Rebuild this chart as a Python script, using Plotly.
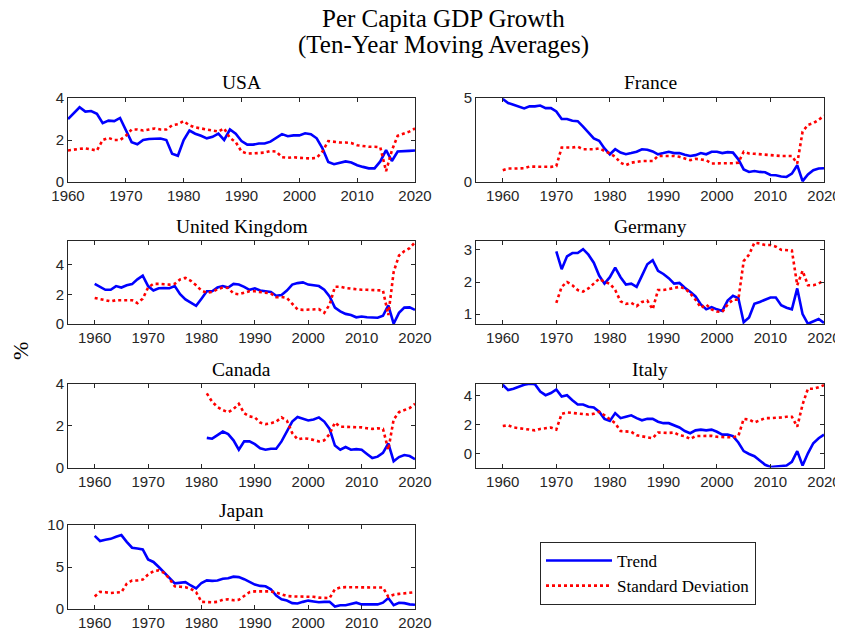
import plotly.graph_objects as go

# ---------------- data ----------------
years_full = list(range(1960, 2021))
years_de = list(range(1970, 2021))
years_ca = list(range(1981, 2021))

usa_trend = [3.0, 3.3, 3.56, 3.35, 3.38, 3.25, 2.8, 2.92, 2.9, 3.05,
             2.5, 1.9, 1.8, 2.0, 2.05, 2.05, 2.07, 2.0, 1.35, 1.25,
             2.0, 2.45, 2.3, 2.2, 2.08, 2.15, 2.3, 2.0, 2.5, 2.3,
             1.95, 1.78, 1.78, 1.83, 1.83, 1.92, 2.1, 2.28, 2.18, 2.22,
             2.22, 2.32, 2.28, 2.08, 1.6, 0.95, 0.85, 0.92, 0.98, 0.93,
             0.8, 0.72, 0.65, 0.65, 0.98, 1.52, 1.0, 1.45, 1.45, 1.48, 1.5]
usa_sd = [1.5, 1.55, 1.58, 1.6, 1.55, 1.5, 2.0, 2.1, 2.0, 2.0,
          2.2, 2.5, 2.5, 2.45, 2.5, 2.55, 2.5, 2.5, 2.7, 2.75,
          2.9, 2.7, 2.6, 2.55, 2.5, 2.48, 2.4, 2.55, 2.1, 1.9,
          1.45, 1.35, 1.35, 1.38, 1.4, 1.47, 1.45, 1.18, 1.15, 1.18,
          1.15, 1.12, 1.12, 1.15, 1.45, 1.95, 1.9, 1.88, 1.88, 1.85,
          1.75, 1.7, 1.68, 1.68, 1.65, 0.52, 1.5, 2.2, 2.3, 2.4, 2.55]

fra_trend = [4.94, 4.7, 4.6, 4.5, 4.38, 4.5, 4.5, 4.55, 4.4, 4.4,
             4.2, 3.75, 3.75, 3.65, 3.62, 3.3, 2.95, 2.6, 2.45, 2.0,
             1.65, 1.95, 1.75, 1.65, 1.72, 1.8, 1.95, 1.92, 1.82, 1.65,
             1.72, 1.8, 1.72, 1.72, 1.62, 1.55, 1.6, 1.72, 1.65, 1.8,
             1.8, 1.72, 1.78, 1.75, 1.35, 0.75, 0.6, 0.65, 0.6, 0.58,
             0.42, 0.4, 0.33, 0.3, 0.5, 1.0, 0.05, 0.45, 0.7, 0.8, 0.82]
fra_sd = [0.7, 0.8, 0.8, 0.8, 0.82, 0.92, 0.92, 0.92, 0.9, 0.9,
          0.95, 2.05, 2.05, 2.05, 2.1, 1.95, 1.95, 1.95, 2.0, 1.85,
          1.7, 1.5, 1.15, 1.0, 1.15, 1.2, 1.25, 1.25, 1.25, 1.55,
          1.55, 1.55, 1.55, 1.5, 1.4, 1.3, 1.38, 1.32, 1.3, 1.1,
          1.12, 1.12, 1.12, 1.12, 1.15, 1.8, 1.7, 1.68, 1.65, 1.65,
          1.62, 1.58, 1.55, 1.55, 1.55, 1.1, 3.0, 3.4, 3.5, 3.7, 3.95]

uk_trend = [2.7, 2.5, 2.3, 2.3, 2.55, 2.45, 2.6, 2.68, 3.0, 3.25,
            2.55, 2.25, 2.4, 2.42, 2.4, 2.55, 2.0, 1.65, 1.45, 1.22,
            1.7, 2.2, 2.2, 2.45, 2.55, 2.45, 2.7, 2.65, 2.5, 2.3,
            2.4, 2.25, 2.2, 2.15, 1.9, 1.95, 2.25, 2.65, 2.75, 2.8,
            2.65, 2.62, 2.55, 2.3, 1.85, 1.1, 0.85, 0.68, 0.6, 0.45,
            0.5, 0.45, 0.42, 0.42, 0.55, 1.25, 0.02, 0.75, 1.1, 1.12, 0.95]
uk_sd = [1.75, 1.65, 1.6, 1.52, 1.6, 1.6, 1.62, 1.6, 1.4, 1.7,
         2.45, 2.7, 2.7, 2.68, 2.65, 2.7, 3.0, 3.1, 2.9, 2.6,
         2.25, 2.1, 2.15, 2.35, 2.45, 2.42, 2.05, 2.0, 2.1, 2.2,
         2.2, 2.15, 2.1, 2.05, 1.8, 1.82, 1.75, 1.35, 0.98, 0.95,
         0.95, 0.98, 1.0, 0.75, 1.3, 2.5, 2.5, 2.42, 2.38, 2.3,
         2.3, 2.3, 2.28, 2.28, 2.25, 0.6, 3.5, 4.6, 4.9, 5.1, 5.5]

de_trend = [2.95, 2.4, 2.8, 2.9, 2.9, 3.02, 2.85, 2.6, 2.2, 1.95,
            2.15, 2.45, 2.15, 1.92, 1.95, 1.85, 2.2, 2.55, 2.68, 2.35,
            2.25, 2.12, 1.95, 1.97, 1.82, 1.7, 1.55, 1.3, 1.15, 1.22,
            1.15, 1.1, 1.42, 1.57, 1.5, 0.75, 0.9, 1.32, 1.38, 1.45,
            1.52, 1.52, 1.28, 1.2, 1.15, 1.8, 1.0, 0.7, 0.78, 0.85, 0.73]
de_sd = [1.35, 1.85, 2.0, 1.9, 1.75, 1.7, 1.8, 1.95, 2.1, 2.0,
         1.95, 1.75, 1.4, 1.32, 1.35, 1.25, 1.38, 1.42, 1.15, 1.75,
         1.75, 1.78, 1.82, 1.85, 1.8, 1.65, 1.45, 1.2, 1.3, 1.15,
         1.08, 1.07, 1.3, 1.45, 1.45, 2.65, 2.85, 3.22, 3.2, 3.15,
         3.15, 3.1, 3.0, 3.0, 2.98, 1.9, 2.35, 1.9, 1.9, 1.95, 2.05]

ca_trend = [1.42, 1.38, 1.55, 1.72, 1.6, 1.3, 0.85, 1.25, 1.25,
            1.12, 0.92, 0.85, 0.9, 0.9, 1.25, 1.75, 2.2, 2.42, 2.35,
            2.25, 2.3, 2.4, 2.2, 1.85, 1.05, 0.85, 0.98, 0.85, 0.88,
            0.85, 0.65, 0.45, 0.52, 0.7, 1.15, 0.3, 0.5, 0.6, 0.55, 0.4]
ca_sd = [3.55, 3.15, 2.9, 2.75, 2.65, 2.8, 3.05, 2.6, 2.45,
         2.4, 2.15, 2.08, 2.12, 2.2, 2.4, 2.25, 1.65, 1.35, 1.4,
         1.38, 1.32, 1.25, 1.3, 1.6, 2.15, 1.95, 1.95, 1.95, 1.95,
         1.92, 1.88, 1.85, 1.88, 1.85, 0.85, 2.3, 2.65, 2.75, 2.85, 3.05]

it_trend = [4.78, 4.4, 4.5, 4.65, 4.78, 4.85, 4.82, 4.3, 4.05, 4.2,
            4.45, 3.95, 4.05, 3.7, 3.4, 3.4, 3.25, 3.2, 2.9, 2.4,
            2.25, 2.8, 2.45, 2.55, 2.65, 2.45, 2.3, 2.4, 2.4, 2.2,
            2.1, 2.1, 1.95, 1.8, 1.55, 1.4, 1.6, 1.65, 1.6, 1.65,
            1.5, 1.3, 1.3, 1.2, 0.75, 0.15, -0.05, -0.2, -0.5, -0.8,
            -0.95, -0.92, -0.92, -0.85, -0.6, 0.15, -0.85, 0.0, 0.7, 1.05, 1.3]
it_sd = [1.9, 1.95, 1.8, 1.75, 1.7, 1.6, 1.6, 1.7, 1.75, 1.8,
         1.65, 2.75, 2.85, 2.8, 2.75, 2.7, 2.7, 2.75, 2.9, 2.65,
         2.4, 2.1, 1.55, 1.5, 1.5, 1.25, 1.2, 1.15, 1.05, 1.45,
         1.42, 1.42, 1.45, 1.25, 1.2, 1.0, 1.2, 1.2, 1.25, 1.22,
         1.15, 1.12, 1.12, 1.12, 1.2, 2.4, 2.35, 2.15, 2.3, 2.45,
         2.45, 2.45, 2.5, 2.55, 2.55, 1.85, 3.4, 4.5, 4.5, 4.6, 4.75]

jp_trend = [8.7, 8.1, 8.25, 8.35, 8.6, 8.8, 8.0, 7.3, 7.2, 7.1,
            5.9, 5.6, 5.0, 4.4, 3.7, 3.05, 3.1, 3.2, 2.8, 2.45,
            3.1, 3.4, 3.35, 3.4, 3.6, 3.65, 3.85, 3.8, 3.55, 3.2,
            2.9, 2.75, 2.7, 2.35, 1.6, 1.15, 1.0, 0.7, 0.65, 0.85,
            1.0, 0.9, 0.8, 0.85, 0.85, 0.3, 0.45, 0.45, 0.6, 0.75,
            0.55, 0.55, 0.5, 0.55, 0.75, 1.3, 0.45, 0.75, 0.7, 0.55, 0.5]
jp_sd = [1.5, 2.05, 2.0, 1.9, 1.95, 2.0, 3.0, 3.4, 3.4, 3.5,
         4.1, 4.5, 4.6, 4.3, 3.6, 2.7, 2.65, 2.6, 2.4, 2.0,
         0.85, 0.8, 0.8, 0.85, 1.1, 1.15, 1.05, 1.1, 1.5, 2.0,
         2.1, 2.1, 2.15, 2.1, 1.95, 1.75, 1.55, 1.5, 1.5, 1.5,
         1.45, 1.45, 1.35, 1.3, 1.3, 2.35, 2.55, 2.6, 2.6, 2.6,
         2.6, 2.6, 2.6, 2.6, 2.55, 1.45, 1.7, 1.8, 1.85, 1.9, 2.0]

xticks = [1960, 1970, 1980, 1990, 2000, 2010, 2020]

# ---------------- layout helpers ----------------
W, H = 843, 632
OFF = 8  # page body margin offset compensation
cols = [(68, 415), (476, 824)]
rows = [(98, 182), (241, 324), (384, 467.5), (525, 609)]


def fx(p):
    return (p - OFF) / W


def fy(p):
    return 1 - (p - OFF) / H


panels = [
    # name, years, trend, sd, col, row, xrange, yrange, yticks
    ("USA", years_full, usa_trend, usa_sd, 0, 0, [1960, 2020], [0, 4], [0, 2, 4]),
    ("France", years_full, fra_trend, fra_sd, 1, 0, [1955, 2020], [0, 5], [0, 5]),
    ("United Kingdom", years_full, uk_trend, uk_sd, 0, 1, [1955, 2020], [0, 5.58], [0, 2, 4]),
    ("Germany", years_de, de_trend, de_sd, 1, 1, [1955, 2020], [0.694, 3.275], [1, 2, 3]),
    ("Canada", years_ca, ca_trend, ca_sd, 0, 2, [1955, 2020], [0, 4], [0, 2, 4]),
    ("Italy", years_full, it_trend, it_sd, 1, 2, [1955, 2020], [-0.99, 4.83], [0, 2, 4]),
    ("Japan", years_full, jp_trend, jp_sd, 0, 3, [1955, 2020], [0, 10], [0, 5, 10]),
]

AXC = "#262626"
tickfont = dict(family="Liberation Sans, Arial, sans-serif", size=15, color=AXC)
serif = "Liberation Serif, Times New Roman, serif"

fig = go.Figure()
layout = dict(
    template="none",
    width=W, height=H,
    margin=dict(l=0, r=0, t=0, b=0, pad=0, autoexpand=False),
    paper_bgcolor="white", plot_bgcolor="white",
    showlegend=True,
)
annotations = []

for i, (name, yrs, tr, sd, c, r, xr, yr, yt) in enumerate(panels):
    k = "" if i == 0 else str(i + 1)
    x0, x1 = cols[c]
    t0, b0 = rows[r]
    common = dict(showline=True, linecolor=AXC, linewidth=1, mirror="ticks",
                  ticks="inside", ticklen=4, tickcolor=AXC, showgrid=False,
                  zeroline=False, tickfont=tickfont, automargin=False)
    layout["xaxis" + k] = dict(domain=[fx(x0), fx(x1)], range=xr, tickvals=xticks,
                               anchor="y" + k, **common)
    layout["yaxis" + k] = dict(domain=[fy(b0), fy(t0)], range=yr, tickvals=yt,
                               anchor="x" + k, **common)
    fig.add_trace(go.Scatter(x=yrs, y=tr, mode="lines", name="Trend",
                             line=dict(color="#0000FF", width=2.6),
                             xaxis="x" + k, yaxis="y" + k, showlegend=(i == 0)))
    fig.add_trace(go.Scatter(x=yrs, y=sd, mode="lines", name="Standard Deviation",
                             line=dict(color="#FF0000", width=2.6, dash="dot"),
                             xaxis="x" + k, yaxis="y" + k, showlegend=(i == 0)))
    annotations.append(dict(text=name, x=fx((x0 + x1) / 2), y=fy(t0 - 15),
                            xref="paper", yref="paper", showarrow=False,
                            xanchor="center", yanchor="middle",
                            font=dict(family=serif, size=19.5, color="black")))

annotations += [
    dict(text="Per Capita GDP Growth", x=fx(443), y=fy(18.5), xref="paper", yref="paper",
         showarrow=False, xanchor="center", yanchor="middle",
         font=dict(family=serif, size=25, color="black")),
    dict(text="(Ten-Year Moving Averages)", x=fx(443), y=fy(45), xref="paper", yref="paper",
         showarrow=False, xanchor="center", yanchor="middle",
         font=dict(family=serif, size=25, color="black")),
    dict(text="%", x=fx(20), y=fy(351), xref="paper", yref="paper", textangle=-90,
         showarrow=False, xanchor="center", yanchor="middle",
         font=dict(family=serif, size=22, color="black")),
]
layout["annotations"] = annotations
layout["legend"] = dict(x=fx(540), y=fy(542), xanchor="left", yanchor="top",
                        bordercolor=AXC, borderwidth=1, bgcolor="white",
                        font=dict(family=serif, size=17, color="black"),
                        itemwidth=66, tracegroupgap=0)
fig.update_layout(**layout)
fig.write_html("out.html")
